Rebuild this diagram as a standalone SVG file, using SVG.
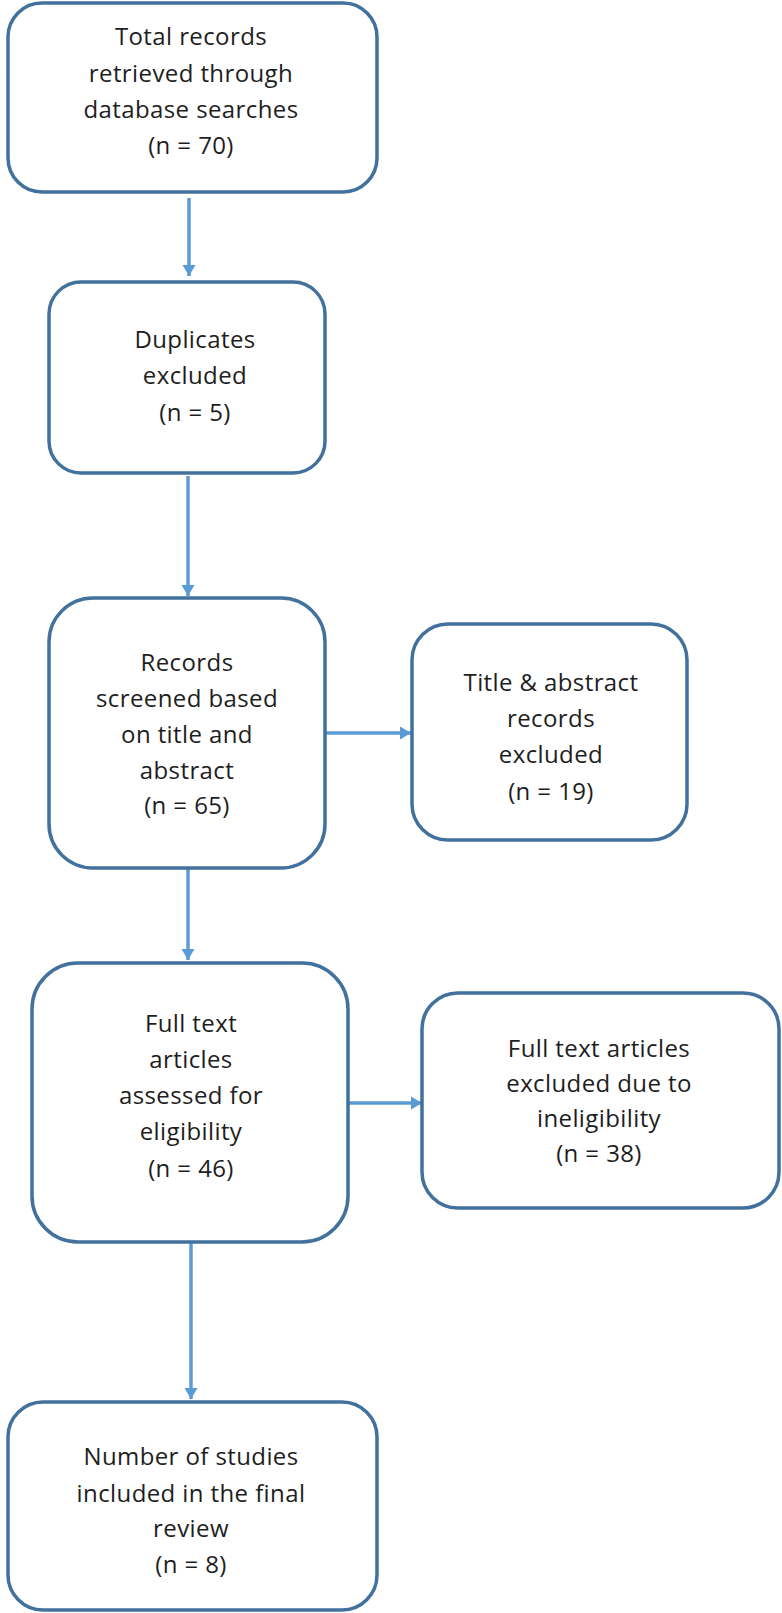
<svg xmlns="http://www.w3.org/2000/svg" width="782" height="1613" viewBox="0 0 782 1613">
<style>
.box{fill:#ffffff;stroke:#41719c;stroke-width:3.5}
.lbl{font-family:"Open Sans","Liberation Sans",sans-serif;font-size:24px;fill:#1e1e1e;text-anchor:middle;letter-spacing:0.4px}
.arr{stroke:#5b9bd5;stroke-width:3.5;fill:none}
</style>
<defs>
<marker id="ah" markerUnits="userSpaceOnUse" markerWidth="14" markerHeight="14" viewBox="0 0 14 14" refX="11" refY="7" orient="auto">
<path d="M0,0.5 L11,7 L0,13.5 Z" fill="#5b9bd5"/>
</marker>
</defs>
<rect width="782" height="1613" fill="#ffffff"/>
<g id="connectors">
<line class="arr" x1="189" y1="198" x2="189" y2="276" marker-end="url(#ah)"/>
<line class="arr" x1="188" y1="476" x2="188" y2="596" marker-end="url(#ah)"/>
<line class="arr" x1="325" y1="733" x2="411" y2="733" marker-end="url(#ah)"/>
<line class="arr" x1="188" y1="868" x2="188" y2="960" marker-end="url(#ah)"/>
<line class="arr" x1="348" y1="1103" x2="422" y2="1103" marker-end="url(#ah)"/>
<line class="arr" x1="191" y1="1242" x2="191" y2="1399" marker-end="url(#ah)"/>
</g>
<g id="n1">
<rect class="box" x="8" y="3" width="369" height="189" rx="34"/>
<text class="lbl" x="191" y="45">Total records</text>
<text class="lbl" x="191" y="82">retrieved through</text>
<text class="lbl" x="191" y="118">database searches</text>
<text class="lbl" x="191" y="154">(n = 70)</text>
</g>
<g id="n2">
<rect class="box" x="49" y="282" width="276" height="191" rx="32"/>
<text class="lbl" x="195" y="348">Duplicates</text>
<text class="lbl" x="195" y="384">excluded</text>
<text class="lbl" x="195" y="421">(n = 5)</text>
</g>
<g id="n3">
<rect class="box" x="49" y="598" width="276" height="270" rx="44"/>
<text class="lbl" x="187" y="671">Records</text>
<text class="lbl" x="187" y="707">screened based</text>
<text class="lbl" x="187" y="743">on title and</text>
<text class="lbl" x="187" y="779">abstract</text>
<text class="lbl" x="187" y="814">(n = 65)</text>
</g>
<g id="n4">
<rect class="box" x="412" y="624" width="275" height="216" rx="36"/>
<text class="lbl" x="551" y="691">Title &amp; abstract</text>
<text class="lbl" x="551" y="727">records</text>
<text class="lbl" x="551" y="763">excluded</text>
<text class="lbl" x="551" y="800">(n = 19)</text>
</g>
<g id="n5">
<rect class="box" x="32" y="963" width="316" height="279" rx="46"/>
<text class="lbl" x="191" y="1032">Full text</text>
<text class="lbl" x="191" y="1068">articles</text>
<text class="lbl" x="191" y="1104">assessed for</text>
<text class="lbl" x="191" y="1140">eligibility</text>
<text class="lbl" x="191" y="1177">(n = 46)</text>
</g>
<g id="n6">
<rect class="box" x="422" y="993" width="357" height="215" rx="36"/>
<text class="lbl" x="599" y="1057">Full text articles</text>
<text class="lbl" x="599" y="1092">excluded due to</text>
<text class="lbl" x="599" y="1127">ineligibility</text>
<text class="lbl" x="599" y="1162">(n = 38)</text>
</g>
<g id="n7">
<rect class="box" x="8" y="1402" width="369" height="208" rx="35"/>
<text class="lbl" x="191" y="1465">Number of studies</text>
<text class="lbl" x="191" y="1502">included in the final</text>
<text class="lbl" x="191" y="1537">review</text>
<text class="lbl" x="191" y="1573">(n = 8)</text>
</g>
</svg>
